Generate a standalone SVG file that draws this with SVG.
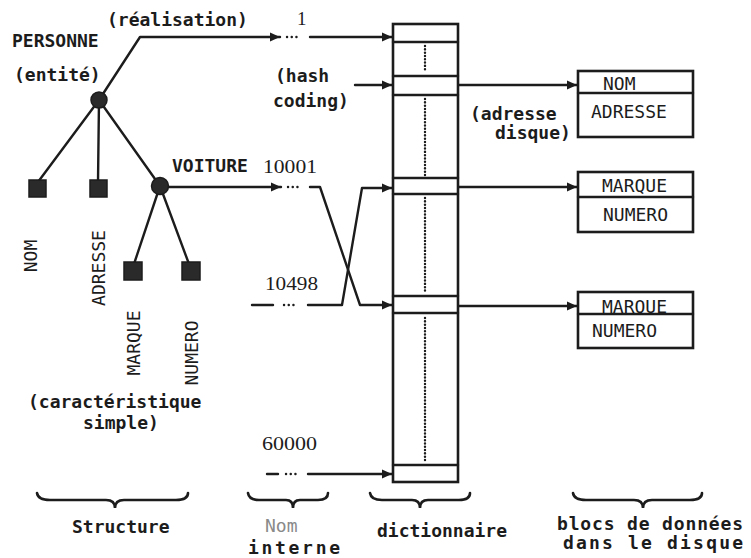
<svg xmlns="http://www.w3.org/2000/svg" width="751" height="558" viewBox="0 0 751 558">
<defs>
<marker id="ah" markerUnits="userSpaceOnUse" markerWidth="10" markerHeight="10" refX="10" refY="5" orient="auto">
<path d="M0,0.5 L10,5 L0,9.5 z" fill="#1c1c1c"/>
</marker>
<style>
.ln{fill:none;stroke:#1c1c1c;stroke-width:2.4;stroke-linecap:round;stroke-linejoin:round}
.dots{fill:none;stroke:#1c1c1c;stroke-width:2.4;stroke-dasharray:0.1 4.6;stroke-linecap:round}
.vdots{fill:none;stroke:#1c1c1c;stroke-width:2.4;stroke-dasharray:0.1 3.2;stroke-linecap:round}
.box{fill:#fff;stroke:#1c1c1c;stroke-width:2.6}
.t{font-family:"DejaVu Sans Mono","Liberation Mono",monospace;font-size:18px;font-weight:bold;fill:#1c1c1c}
.b{font-family:"DejaVu Sans Mono","Liberation Mono",monospace;font-size:18px;fill:#1c1c1c}
.faint{fill:#8a8a8a}
.n{font-family:"Liberation Serif",serif;font-size:19px;fill:#1c1c1c}
.node{fill:#2a2a2a;stroke:#1c1c1c;stroke-width:1.5}
.brace{fill:none;stroke:#1c1c1c;stroke-width:2.6;stroke-linecap:round}
</style>
</defs>
<rect width="751" height="558" fill="#fff"/>

<g id="connectors">
<polyline class="ln" points="99,100 140,37 280,37" marker-end="url(#ah)"/>
<line class="dots" x1="287" y1="37" x2="301" y2="37"/>
<line class="ln" x1="310" y1="37" x2="392" y2="37" marker-end="url(#ah)"/>
<line class="ln" x1="355" y1="85" x2="392" y2="85" marker-end="url(#ah)"/>
<line class="ln" x1="99" y1="100" x2="38" y2="182"/>
<line class="ln" x1="99" y1="100" x2="98" y2="182"/>
<line class="ln" x1="99" y1="100" x2="160" y2="186"/>
<line class="ln" x1="160" y1="186" x2="134" y2="264"/>
<line class="ln" x1="160" y1="186" x2="189" y2="264"/>
<line class="ln" x1="160" y1="187" x2="281" y2="187" marker-end="url(#ah)"/>
<line class="dots" x1="288" y1="187" x2="302" y2="187"/>
<polyline class="ln" points="310,187 320,187 360,305 392,305" marker-end="url(#ah)"/>
<line class="ln" x1="252" y1="305" x2="273" y2="305"/>
<line class="dots" x1="284" y1="305" x2="298" y2="305"/>
<polyline class="ln" points="308,305 342,305 362,188 392,188" marker-end="url(#ah)"/>
<line class="ln" x1="267" y1="474" x2="278" y2="474"/>
<line class="dots" x1="286" y1="474" x2="300" y2="474"/>
<line class="ln" x1="308" y1="474" x2="392" y2="474" marker-end="url(#ah)"/>
<line class="ln" x1="458" y1="85" x2="577" y2="85" marker-end="url(#ah)"/>
<line class="ln" x1="458" y1="187" x2="577" y2="187" marker-end="url(#ah)"/>
<line class="ln" x1="458" y1="306" x2="577" y2="306" marker-end="url(#ah)"/>
</g>

<g id="personne">
<circle class="node" cx="99" cy="100" r="8"/>
<text class="t" x="12" y="47">PERSONNE</text>
<text class="t" x="14" y="81">(entité)</text>
<text class="t" x="107" y="26">(réalisation)</text>
</g>
<g id="nom">
<rect class="node" x="29" y="180" width="17" height="17"/>
<text class="b" transform="translate(37,256) rotate(-90)" text-anchor="middle">NOM</text>
</g>
<g id="adresse">
<rect class="node" x="90" y="180" width="17" height="17"/>
<text class="b" transform="translate(105,268) rotate(-90)" text-anchor="middle">ADRESSE</text>
</g>
<g id="voiture">
<circle class="node" cx="160" cy="186" r="8.5"/>
<text class="t" x="172" y="172">VOITURE</text>
</g>
<g id="marque">
<rect class="node" x="124" y="262" width="18" height="18"/>
<text class="b" transform="translate(140,343) rotate(-90)" text-anchor="middle">MARQUE</text>
</g>
<g id="numero">
<rect class="node" x="182" y="262" width="18" height="18"/>
<text class="b" transform="translate(198,353) rotate(-90)" text-anchor="middle">NUMERO</text>
</g>
<g id="caracteristique">
<text class="t" x="28" y="408">(caractéristique</text>
<text class="t" x="83" y="429">simple)</text>
</g>

<g id="noms-internes">
<text class="n" x="297" y="25">1</text>
<text class="n" x="263" y="173" textLength="54" lengthAdjust="spacingAndGlyphs">10001</text>
<text class="n" x="265" y="290" textLength="53" lengthAdjust="spacingAndGlyphs">10498</text>
<text class="n" x="262" y="450" textLength="55" lengthAdjust="spacingAndGlyphs">60000</text>
<text class="t" x="275" y="82">(hash</text>
<text class="t" x="273" y="107">coding)</text>
</g>

<g id="dictionnaire">
<rect class="box" x="393" y="24" width="65" height="458"/>
<line class="ln" x1="393" y1="42" x2="458" y2="42"/>
<line class="ln" x1="393" y1="76" x2="458" y2="76"/>
<line class="ln" x1="393" y1="95" x2="458" y2="95"/>
<line class="ln" x1="393" y1="178" x2="458" y2="178"/>
<line class="ln" x1="393" y1="194" x2="458" y2="194"/>
<line class="ln" x1="393" y1="296" x2="458" y2="296"/>
<line class="ln" x1="393" y1="313" x2="458" y2="313"/>
<line class="ln" x1="393" y1="465" x2="458" y2="465"/>
<line class="vdots" x1="425" y1="46" x2="425" y2="72"/>
<line class="vdots" x1="425" y1="99" x2="425" y2="175"/>
<line class="vdots" x1="425" y1="198" x2="425" y2="292"/>
<line class="vdots" x1="425" y1="318" x2="425" y2="461"/>
<text class="t" x="470" y="120">(adresse</text>
<text class="t" x="495" y="139">disque)</text>
</g>

<g id="bloc1">
<rect class="box" x="578" y="71" width="115" height="66"/>
<line class="ln" x1="578" y1="93" x2="693" y2="93"/>
<text class="b" x="603" y="90">NOM</text>
<text class="b" x="591" y="118">ADRESSE</text>
</g>
<g id="bloc2">
<rect class="box" x="578" y="172" width="115" height="60"/>
<line class="ln" x1="578" y1="197" x2="693" y2="197"/>
<text class="b" x="602" y="192">MARQUE</text>
<text class="b" x="603" y="221">NUMERO</text>
</g>
<g id="bloc3">
<rect class="box" x="578" y="292" width="115" height="56"/>
<line class="ln" x1="578" y1="314" x2="693" y2="314"/>
<text class="b" x="602" y="313">MARQUE</text>
<text class="b" x="592" y="337">NUMERO</text>
</g>

<g id="legendes">
<path class="brace" d="M37,493 Q38,500 50,500 L106,500 Q115,500 115,508 Q115,500 124,500 L176,500 Q188,500 188,493"/>
<path class="brace" d="M248,493 Q249,500 259,500 L286,500 Q293,500 293,508 Q293,500 300,500 L318,500 Q328,500 328,493"/>
<path class="brace" d="M370,493 Q371,500 382,500 L412,500 Q420,500 420,508 Q420,500 428,500 L459,500 Q470,500 470,493"/>
<path class="brace" d="M573,493 Q574,500 586,500 L634,500 Q643,500 643,508 Q643,500 652,500 L690,500 Q702,500 702,493"/>
<text class="t" x="72" y="533">Structure</text>
<text class="b faint" x="265" y="532">Nom</text>
<text class="t" x="248" y="554" textLength="92">interne</text>
<text class="t" x="377" y="537">dictionnaire</text>
<text class="t" x="557" y="530" textLength="186">blocs de données</text>
<text class="t" x="563" y="549" textLength="180">dans le disque</text>
</g>
</svg>
